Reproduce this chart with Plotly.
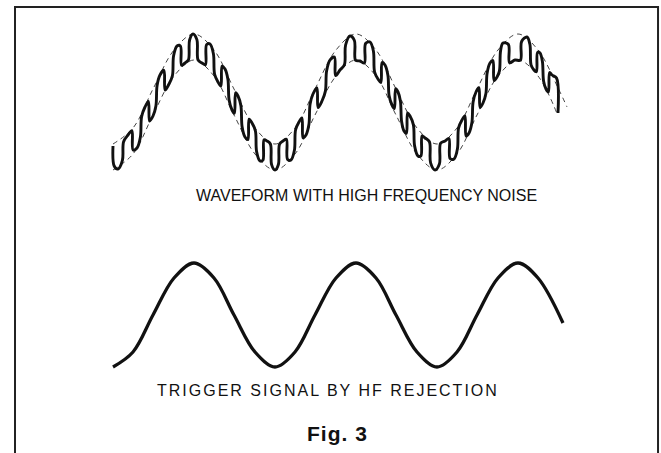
import numpy as np
import plotly.graph_objects as go

# ---- data (time units from waveform start, amplitude units) ----
# noisy waveform: hump (local max) and dip (local min) positions / levels
hump_t = [15, 32, 47, 64, 80, 97, 112, 125, 139, 154, 170, 186, 200, 217, 237, 257, 272, 285,
          297, 312, 332, 349, 363, 377, 390, 414, 427, 439]
hump_v = [-33, -5, 27, 56, 68, 58, 33, 6, -21, -39, -39, -20, 8, 42, 66, 60, 37, 10,
          -14, -36, -39, -18, 10, 39, 59, 65, 49, 27]
dip_t = [5, 24, 40, 56, 72, 89, 105, 119, 132, 147, 162, 178, 193, 209, 227, 247, 265, 279,
         291, 305, 322, 341, 356, 370, 384, 402, 421, 433]
dip_v = [-67, -46, -14, 18, 39, 39, 20, -8, -35, -59, -68, -58, -33, 1, 32, 41, 23, -3,
         -29, -54, -68, -57, -31, -1, 25, 42, 32, 13]
noisy_start = (0, -44)
noisy_end = (445, -11)

# dashed envelopes of the noisy waveform
env_t = [0, 20, 40, 61, 81, 101, 121, 142, 162, 182, 202, 223, 243, 263, 283, 304, 324, 344,
         364, 385, 405, 425, 446, 454]
env_upper = [-42, -26, 13, 52, 68, 52, 13, -26, -42, -26, 13, 52, 68, 52, 13, -26, -42, -26,
             13, 52, 68, 52, 12, -5]
env_lower_t = [0, 20, 40, 61, 81, 101, 121, 142, 162, 182, 202, 223, 243, 263, 283, 304, 324, 344,
               364, 385, 405, 425, 445]
env_lower = [-68, -52, -13, 26, 42, 26, -13, -52, -68, -52, -13, 26, 42, 26, -13, -52, -68, -52,
             -13, 26, 42, 26, -14]

# trigger signal (after HF rejection)
trig_t = [0, 20, 40, 61, 81, 101, 121, 142, 162, 182, 202, 223, 243, 263, 283, 304, 324, 344,
          364, 385, 405, 425, 450]
trig_v = [-52, -37, 0, 37, 52, 37, 0, -37, -52, -37, 0, 37, 52, 37, 0, -37, -52, -37,
          0, 37, 52, 37, -8]

label_top = "WAVEFORM WITH HIGH FREQUENCY NOISE"
label_bottom = "TRIGGER SIGNAL BY HF REJECTION"
caption = "Fig. 3"

# ---- build the noisy trace path: high parts follow the humps, low parts the dips,
#      with steep edges between them ----
up_t = [noisy_start[0]] + hump_t
up_v = [noisy_start[1]] + hump_v
lo_t = dip_t + [noisy_end[0]]
lo_v = dip_v + [noisy_end[1]]


def upper(t):
    return float(np.interp(t, up_t, up_v))


def lower(t):
    return float(np.interp(t, lo_t, lo_v))


w = 1.2  # half width of an edge
nt = [noisy_start[0], noisy_start[0] + w, dip_t[0]]
nv = [noisy_start[1], lower(0) + 3, dip_v[0]]
for k in range(len(hump_t)):
    e = (dip_t[k] + hump_t[k]) / 2
    nt += [e - w / 2, e + w / 2, hump_t[k]]
    nv += [lower(e) + 3, upper(e) - 3, hump_v[k]]
    if k + 1 < len(dip_t):
        e2 = (hump_t[k] + dip_t[k + 1]) / 2
        nt += [e2 - w / 2, e2 + w / 2, dip_t[k + 1]]
        nv += [upper(e2) - 3, lower(e2) + 3, dip_v[k + 1]]
    else:
        nt += [noisy_end[0] - 1.5, noisy_end[0]]
        nv += [upper(noisy_end[0] - 1.5) - 3, noisy_end[1]]

fig = go.Figure()
fig.add_trace(go.Scatter(x=env_t, y=env_upper, mode="lines",
                         line=dict(color="#444", width=1, dash="5px,4px", shape="spline"),
                         yaxis="y", hoverinfo="skip"))
fig.add_trace(go.Scatter(x=env_lower_t, y=env_lower, mode="lines",
                         line=dict(color="#444", width=1, dash="5px,4px", shape="spline"),
                         yaxis="y", hoverinfo="skip"))
fig.add_trace(go.Scatter(x=nt, y=nv, mode="lines",
                         line=dict(color="#111", width=2.9, shape="spline", smoothing=1.0),
                         yaxis="y", hoverinfo="skip"))
fig.add_trace(go.Scatter(x=trig_t, y=trig_v, mode="lines",
                         line=dict(color="#111", width=3.3, shape="spline"),
                         yaxis="y2", hoverinfo="skip"))

fig.update_layout(
    width=661, height=453,
    margin=dict(l=0, r=0, t=0, b=0),
    paper_bgcolor="white", plot_bgcolor="white",
    showlegend=False,
    hovermode=False,
    xaxis=dict(range=[-113, 548], visible=False, fixedrange=True),
    yaxis=dict(range=[-351, 102], visible=False, domain=[0, 1], fixedrange=True),
    yaxis2=dict(range=[-138, 315], visible=False, domain=[0, 1], overlaying="y", fixedrange=True),
    font=dict(family="Liberation Sans, Arial, sans-serif", color="#111"),
    shapes=[dict(type="path", xref="paper", yref="paper",
                 path="M 0.0227,0 L 0.0227,0.9845 L 0.9955,0.9845 L 0.9955,0",
                 line=dict(color="#222", width=2))],
    annotations=[
        dict(text=label_top, xref="paper", yref="paper", x=0.5552, y=0.5695,
             showarrow=False, font=dict(size=16), xanchor="center", yanchor="middle"),
        dict(text='<span style="letter-spacing:2px">' + label_bottom + '</span>',
             xref="paper", yref="paper", x=0.4962, y=0.1369,
             showarrow=False, font=dict(size=16), xanchor="center", yanchor="middle"),
        dict(text='<span style="letter-spacing:1px">' + caption + '</span>',
             xref="paper", yref="paper", x=0.5106, y=0.044,
             showarrow=False, font=dict(size=21, weight="bold"), xanchor="center", yanchor="middle"),
    ],
)

fig.write_html("out.html", config={"displayModeBar": False, "staticPlot": True},
               post_script="document.body.style.margin='0';")
